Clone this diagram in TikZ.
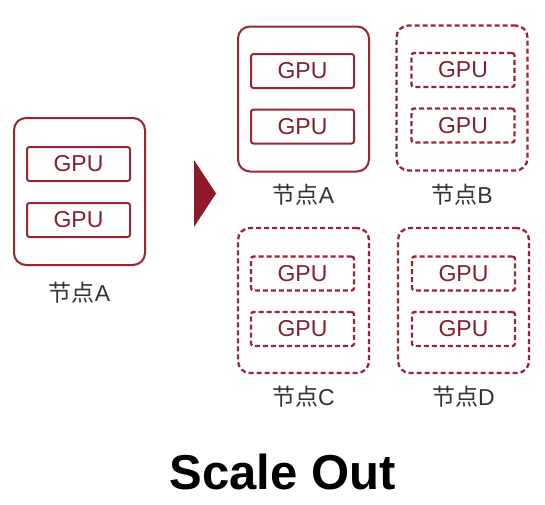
\documentclass[tikz,border=0pt]{standalone}
\usepackage{fontspec}
\setmainfont{Liberation Sans}
\newfontfamily\cjk{Noto Sans CJK SC}
\definecolor{nodered}{RGB}{152,36,52}
\definecolor{arrowred}{RGB}{140,26,40}
\newcommand{\nodename}{{\cjk 节点}}
\begin{document}
\begin{tikzpicture}[x=1pt, y=-1pt,
    server/.style={draw=nodered, line width=2pt, rounded corners=12pt, minimum width=131pt, minimum height=145pt, inner sep=0pt},
    gpu/.style={draw=nodered, line width=2pt, rounded corners=2.5pt, minimum width=103pt, minimum height=34pt, inner sep=0pt, text=nodered!85!black, font=\fontsize{23}{23}\selectfont},
    spare/.style={line width=2.3pt, dash pattern=on 5pt off 3pt},
    serverlabel/.style={text=black!80, font=\fontsize{23}{23}\selectfont}]
    \useasboundingbox (0, 0) rectangle (545, 504);
    % single node before
    \node[server, minimum height=147pt] (a0) at (79.5, 191.5) {};
    \node[gpu] (a0g1) at (78.5, 164) {GPU};
    \node[gpu] (a0g2) at (78.5, 220) {GPU};
    \node[serverlabel] (a0l) at (79.5, 293) {\nodename A};
    % arrow
    \fill[arrowred] (194, 160) -- (216, 193.5) -- (194, 227) -- cycle;
    % four nodes after
    \node[server] (a) at (303.5, 99) {};
    \node[gpu] (ag1) at (302.5, 71) {GPU};
    \node[gpu] (ag2) at (302.5, 126.5) {GPU};
    \node[serverlabel] (al) at (303.5, 195) {\nodename A};
    \node[server, spare] (b) at (462, 98) {};
    \node[gpu, spare] (bg1) at (463, 70) {GPU};
    \node[gpu, spare] (bg2) at (463, 125.5) {GPU};
    \node[serverlabel] (bl) at (462, 195) {\nodename B};
    \node[server, spare] (c) at (303.5, 300.5) {};
    \node[gpu, spare] (cg1) at (302.5, 273.5) {GPU};
    \node[gpu, spare] (cg2) at (302.5, 329) {GPU};
    \node[serverlabel] (cl) at (303.5, 397) {\nodename C};
    \node[server, spare] (d) at (463.5, 300.5) {};
    \node[gpu, spare] (dg1) at (463.5, 273.5) {GPU};
    \node[gpu, spare] (dg2) at (463.5, 329) {GPU};
    \node[serverlabel] (dl) at (463.5, 397) {\nodename D};
    % caption
    \node[font=\bfseries\fontsize{49}{49}\selectfont] (title) at (282.5, 472) {Scale Out};
\end{tikzpicture}
\end{document}
